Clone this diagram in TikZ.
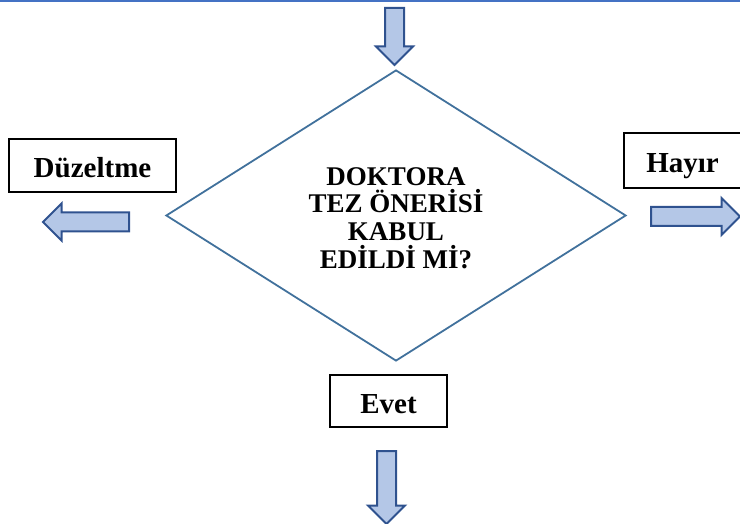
\documentclass[tikz,border=0pt]{standalone}
\usepackage{fontspec}
\setmainfont{Liberation Serif}
\usetikzlibrary{shapes.geometric,shapes.arrows}
\definecolor{okdolgu}{HTML}{B4C7E7}
\definecolor{okkenar}{HTML}{2F528F}
\definecolor{karark}{HTML}{41719C}
\definecolor{ustcizgi}{HTML}{4472C4}
\begin{document}
\begin{tikzpicture}[
    x=1pt, y=-1pt,
    kutu/.style={rectangle, draw=black, line width=1.3pt, minimum width=117pt, minimum height=53pt, inner sep=2pt, text height=25pt, text depth=0pt, font=\fontsize{29}{30}\selectfont\bfseries},
    karar/.style={diamond, draw=karark, line width=1.8pt, minimum width=460pt, minimum height=291pt, inner sep=0pt},
    yazi/.style={align=center, inner sep=0pt, font=\fontsize{27}{27.7}\selectfont\bfseries},
    ok/.style={single arrow, draw=okkenar, fill=okdolgu, line width=2pt, inner sep=8.5pt, single arrow head extend=9pt, minimum width=35pt}
]
\useasboundingbox (0,0) rectangle (740,524);
\draw[ustcizgi, line width=1.2pt] (0,1) -- (740,1);

\node[karar] (soru) at (396,215.5) {};
\node[yazi] (soruyazi) at (396,218) {DOKTORA\\TEZ ÖNERİSİ\\KABUL\\EDİLDİ Mİ?};

\node[kutu, minimum width=167pt] (duzeltme) at (92.5,165.5) {Düzeltme};
\node[kutu, minimum height=55pt] (hayir) at (682.5,160.5) {Hayır};
\node[kutu, minimum height=52pt] (evet) at (388.5,401) {Evet};

% giris ve cikis oklari
\node[ok, shape border rotate=270, minimum height=57pt, anchor=tail] (okust) at (394.5,7) {};
\node[ok, shape border rotate=180, minimum height=86pt, anchor=tail] (oksol) at (130,222) {};
\node[ok, minimum height=89pt, anchor=tail] (oksag) at (650,216.5) {};
\node[ok, shape border rotate=270, minimum height=73pt, anchor=tail] (okalt) at (386.5,450) {};
\end{tikzpicture}
\end{document}
